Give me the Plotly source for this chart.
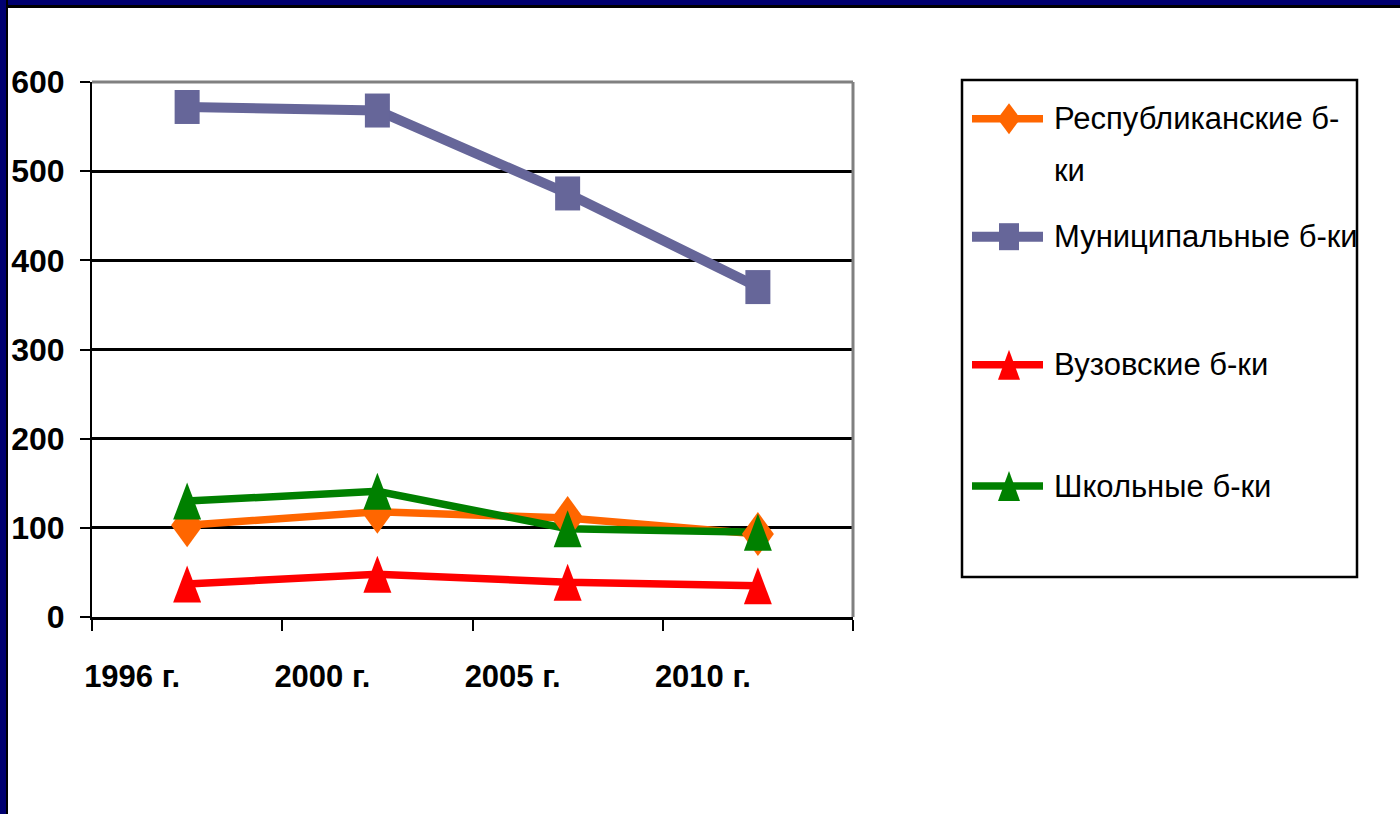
import plotly.graph_objects as go

# ---- data ----
years = ["1996 г.", "2000 г.", "2005 г.", "2010 г."]
series_names = ["Республиканские б-ки", "Муниципальные б-ки", "Вузовские б-ки", "Школьные б-ки"]
# legend text lines as displayed (first label wraps)
legend_lines = [["Республиканские б-", "ки"], ["Муниципальные б-ки"], ["Вузовские б-ки"], ["Школьные б-ки"]]
republican = [103, 118, 111, 93]
municipal = [572, 568, 475, 370]
university = [37, 48, 39, 35]
school = [130, 141, 99, 95]
y_ticks = [0, 100, 200, 300, 400, 500, 600]

# ---- styles ----
FONT = "Liberation Sans Narrow, Arial Narrow, Liberation Sans, Arial, sans-serif"
colors = ["#FF6600", "#666699", "#FF0000", "#008000"]
line_widths = [7.5, 10, 7.5, 7.5]
NAVY = "#000070"

DIAMOND = [(0, 22), (16, 0), (0, -22), (-16, 0)]
SQUARE = [(-12.5, -17), (12.5, -17), (12.5, 17), (-12.5, 17)]
TRIANGLE = [(-14, -18.5), (14, -18.5), (0, 18.5)]
LG_DIAMOND = [(0, 15.5), (11.5, 0), (0, -15.5), (-11.5, 0)]
LG_SQUARE = [(-10, -13.5), (10, -13.5), (10, 13.5), (-10, 13.5)]
LG_TRIANGLE = [(-11, -15), (11, -15), (0, 15)]
marker_polys = [DIAMOND, SQUARE, TRIANGLE, TRIANGLE]
legend_polys = [LG_DIAMOND, LG_SQUARE, LG_TRIANGLE, LG_TRIANGLE]


def poly_path(pts, dx=0.0, dy=0.0):
    return "M" + " L".join(f"{x + dx:.2f},{y + dy:.2f}" for x, y in pts) + " Z"


all_series = [republican, municipal, university, school]
xpos = list(range(len(years)))

fig = go.Figure()
for name, vals, col, lw in zip(series_names, all_series, colors, line_widths):
    fig.add_trace(go.Scatter(x=xpos, y=vals, name=name, mode="lines",
                             line=dict(color=col, width=lw), showlegend=False))

shapes = []
# markers drawn as pixel-sized shapes anchored at the data values
for vals, col, poly in zip(all_series, colors, marker_polys):
    for xi, v in zip(xpos, vals):
        shapes.append(dict(type="path", xref="x", yref="y", xsizemode="pixel", ysizemode="pixel",
                           xanchor=xi, yanchor=v, path=poly_path(poly), fillcolor=col,
                           line=dict(width=0)))

# plot area gray border (top & right)
shapes.append(dict(type="line", xref="paper", yref="paper", x0=0, x1=1, y0=1, y1=1,
                   line=dict(color="#808080", width=3)))
shapes.append(dict(type="line", xref="paper", yref="paper", x0=1, x1=1, y0=0, y1=1,
                   line=dict(color="#808080", width=3)))

# navy frame (left and top)
shapes.append(dict(type="rect", xref="paper", yref="paper", xsizemode="pixel", ysizemode="pixel",
                   xanchor=0, yanchor=0, x0=-92, x1=-86, y0=-200, y1=620,
                   fillcolor=NAVY, line=dict(width=0)))
shapes.append(dict(type="rect", xref="paper", yref="paper", xsizemode="pixel", ysizemode="pixel",
                   xanchor=0, yanchor=1, x0=-92, x1=1400, y0=82, y1=77,
                   fillcolor=NAVY, line=dict(width=0)))
shapes.append(dict(type="rect", xref="paper", yref="paper", xsizemode="pixel", ysizemode="pixel",
                   xanchor=0, yanchor=0, x0=-86, x1=-84, y0=-200, y1=618,
                   fillcolor="black", line=dict(width=0)))
shapes.append(dict(type="rect", xref="paper", yref="paper", xsizemode="pixel", ysizemode="pixel",
                   xanchor=0, yanchor=1, x0=-86, x1=1400, y0=77, y1=74,
                   fillcolor="black", line=dict(width=0)))

# legend box
shapes.append(dict(type="rect", xref="paper", yref="paper", xsizemode="pixel", ysizemode="pixel",
                   xanchor=1, yanchor=1, x0=109, x1=504, y0=2, y1=-495,
                   fillcolor="rgba(0,0,0,0)", line=dict(color="black", width=2.5)))

legend_offsets = [-36.7, -154.7, -282.7, -404]
LINE_GAP = 52
annotations = []
for lines, col, lw, poly, off in zip(legend_lines, colors, line_widths, legend_polys, legend_offsets):
    shapes.append(dict(type="line", xref="paper", yref="paper", xsizemode="pixel", ysizemode="pixel",
                       xanchor=1, yanchor=1, x0=119, x1=190, y0=off, y1=off,
                       line=dict(color=col, width=lw)))
    shapes.append(dict(type="path", xref="paper", yref="paper", xsizemode="pixel", ysizemode="pixel",
                       xanchor=1, yanchor=1, path=poly_path(poly, 156, off),
                       fillcolor=col, line=dict(width=0)))
    for k, txt in enumerate(lines):
        annotations.append(dict(xref="paper", yref="paper", x=1, y=1, xshift=199,
                                yshift=off - k * LINE_GAP, xanchor="left", yanchor="middle",
                                text=txt, showarrow=False, align="left",
                                font=dict(family=FONT, size=31, color="black")))

fig.update_layout(
    template="none",
    width=1400, height=814,
    margin=dict(l=92, r=547, t=82, b=197, pad=0),
    paper_bgcolor="white", plot_bgcolor="white",
    showlegend=False,
    shapes=shapes, annotations=annotations,
    xaxis=dict(automargin=False, range=[-0.5, 3.5], tickmode="array", tickvals=xpos, ticktext=years,
               ticks="", showgrid=False, zeroline=False,
               showline=True, linecolor="black", linewidth=3,
               tickfont=dict(family=FONT, size=31, color="black", weight="bold"),
               ticklabelshift=-55, ticklabelstandoff=30,
               minor=dict(tickmode="array", tickvals=[-0.5, 0.5, 1.5, 2.5, 3.5], ticks="outside",
                          ticklen=11, tickwidth=2, tickcolor="black", showgrid=False)),
    yaxis=dict(automargin=False, range=[0, 600], tickmode="array", tickvals=y_ticks,
               ticks="outside", ticklen=10, tickwidth=2, tickcolor="black",
               showgrid=True, gridcolor="black", gridwidth=3, zeroline=False,
               showline=True, linecolor="black", linewidth=2,
               tickfont=dict(family=FONT, size=32, color="black", weight="bold"),
               ticklabelstandoff=9),
)

# remove the default 8px page margin so the figure sits at the page origin
fig.write_html("out.html", config={"displayModeBar": False},
               post_script="document.body.style.margin='0';")
